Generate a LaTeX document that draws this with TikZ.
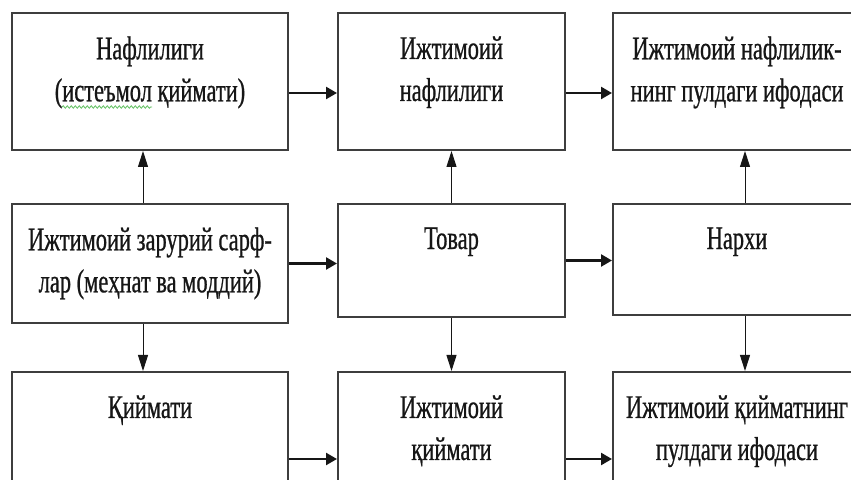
\documentclass[tikz,border=0pt]{standalone}
\usepackage{fontspec}
\setmainfont{Liberation Serif}[FakeStretch=0.68,FakeBold=0.7]
\usepackage{tikz}
\usetikzlibrary{arrows.meta,positioning,decorations.pathmorphing}
\definecolor{bxedge}{RGB}{62,62,62}
\definecolor{bxink}{RGB}{22,22,22}
\definecolor{spellgrn}{RGB}{96,192,96}
\tikzset{
  cell/.style={
    draw=bxedge, line width=1pt, fill=white, inner sep=0pt
  },
  colA/.style={cell, minimum width=138pt},
  colB/.style={cell, minimum width=113.5pt},
  colC/.style={cell, minimum width=124pt},
  txt/.style={
    align=center, inner sep=0pt, text=bxink,
    font=\fontsize{16.5}{21}\selectfont
  },
  arr/.style={-{Triangle[length=5.5pt,width=6pt]}, draw=bxink, line width=1.2pt},
  varr/.style={-{Triangle[length=8pt,width=5pt]}, draw=bxink, line width=0.5pt},
  spell/.style={
    draw=spellgrn, line width=0.4pt, decorate,
    decoration={snake, amplitude=0.6pt, segment length=2pt}
  }
}

\begin{document}
\begin{tikzpicture}[x=0.5pt, y=-0.5pt]
  \useasboundingbox (0,0) rectangle (851,480);
  % boxes
  \node[colA, minimum height=68.5pt] (b11) at (150,81.5) {};
  \node[colB, minimum height=68.5pt] (b12) at (451.5,81.5) {};
  \node[colC, minimum height=68.5pt] (b13) at (737,81.5) {};
  \node[colA, minimum height=59.5pt] (b21) at (150,263.5) {};
  \node[colB, minimum height=56.5pt] (b22) at (451.5,260.5) {};
  \node[colC, minimum height=55.5pt] (b23) at (737,259.5) {};
  \node[colA, minimum height=87pt] (b31) at (150,459) {};
  \node[colB, minimum height=87pt] (b32) at (451.5,459) {};
  \node[colC, minimum height=87pt] (b33) at (737,459) {};
  % texts
  \node[txt, below=12pt of b11.north] (t11) {Нафлилиги\\(истеъмол қиймати)};
  \node[txt, below=12pt of b12.north] (t12) {Ижтимоий\\нафлилиги};
  \node[txt, below=12pt of b13.north] (t13) {Ижтимоий нафлилик-\\нинг пулдаги ифодаси};
  \node[txt, below=12pt of b21.north] (t21) {Ижтимоий зарурий сарф-\\лар (меҳнат ва моддий)};
  \node[txt, below=12pt of b22.north] (t22) {Товар};
  \node[txt, below=12pt of b23.north] (t23) {Нархи};
  \node[txt, below=12pt of b31.north] (t31) {Қиймати};
  \node[txt, below=12pt of b32.north] (t32) {Ижтимоий\\қиймати};
  \node[txt, below=12pt of b33.north] (t33) {Ижтимоий қийматнинг\\пулдаги ифодаси};
  \draw[spell] (62,107) -- (152,107);
  % arrows
  \foreach \p/\q in {b11/b12,b12/b13}
    \draw[arr] ([yshift=-5.75pt]\p.east) -- ([yshift=-5.75pt]\q.west);
  \foreach \p/\q in {b21/b22,b22/b23}
    \draw[arr] (\p.east) -- (\p.east -| \q.west);
  \foreach \p/\q in {b31/b32,b32/b33}
    \draw[arr] (\p) -- (\q);
  \foreach \c/\dx in {1/-3.5pt,2/0pt,3/4pt} {
    \draw[varr] ([xshift=\dx]b2\c.north) -- ([xshift=\dx]b1\c.south);
    \draw[varr] ([xshift=\dx]b2\c.south) -- ([xshift=\dx]b3\c.north);
  }
\end{tikzpicture}
\end{document}
